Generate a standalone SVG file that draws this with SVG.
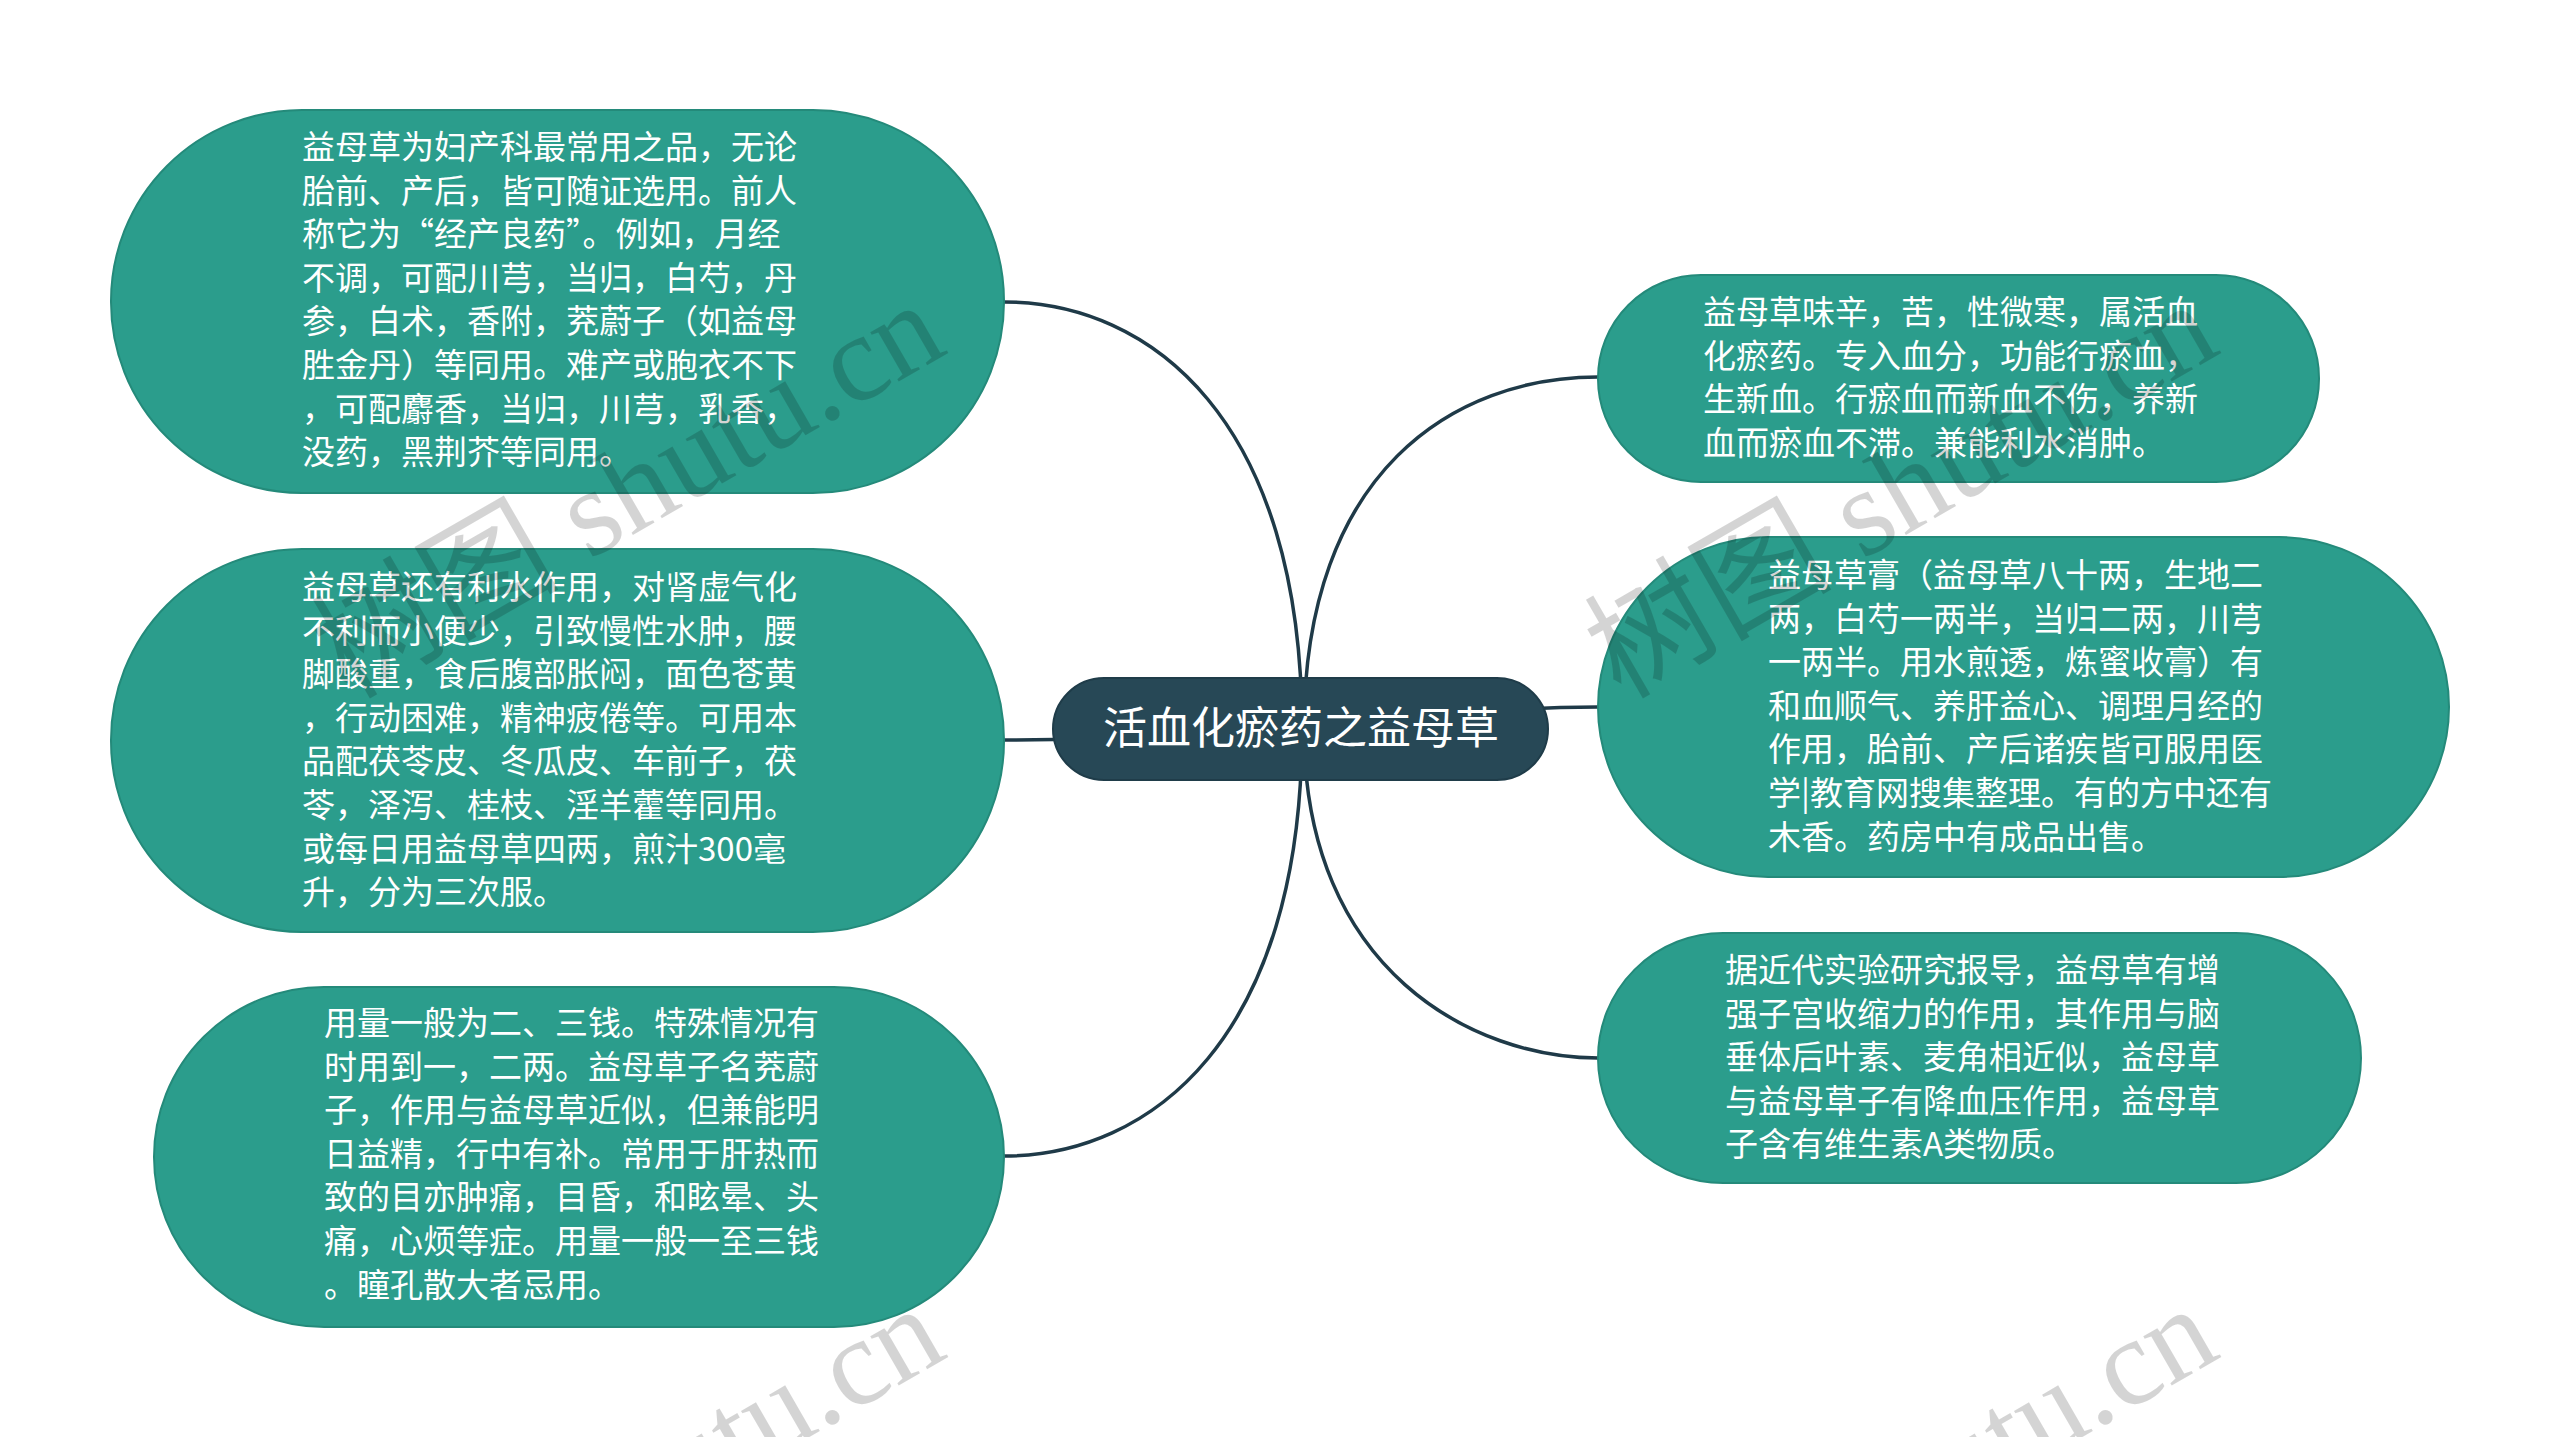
<svg xmlns="http://www.w3.org/2000/svg" width="2560" height="1437" viewBox="0 0 2560 1437">
<style>
.bg{fill:#ffffff}
.node{fill:#2b9d8c;stroke:#248a7a;stroke-width:2}
.root{fill:#274856;stroke:#1f3c49;stroke-width:2}
.t{font-family:"Noto Sans CJK SC","Noto Sans",sans-serif;font-size:33px;fill:#ffffff}
.rt{font-family:"Noto Sans CJK SC","Noto Sans",sans-serif;font-size:44px;fill:#ffffff;text-anchor:middle}
.edge{fill:none;stroke:#1f3a48;stroke-width:3.5}
.wm{font-family:"Liberation Serif","Noto Sans CJK SC",serif;font-size:124px;fill:#000000;fill-opacity:0.17;text-anchor:end}
</style>
<rect class="bg" x="0" y="0" width="2560" height="1437"/>
<g id="connectors">
<path class="edge" d="M1004,302 C1150,302 1302,419 1302,729"/>
<path class="edge" d="M1004,740 C1150,740 1200,729 1302,729"/>
<path class="edge" d="M1004,1156 C1150,1156 1302,1039 1302,729"/>
<path class="edge" d="M1598,377 C1455,377 1304,470 1304,729"/>
<path class="edge" d="M1598,707 C1450,707 1400,729 1302,729"/>
<path class="edge" d="M1598,1058 C1475,1058 1304,972 1304,729"/>
</g>
<g id="node1">
<rect class="node" x="111" y="110" width="893" height="383" rx="191" ry="191"/>
<text class="t" x="302" y="159"><tspan x="302">益母草为妇产科最常用之品，无论</tspan><tspan x="302" dy="43.6">胎前、产后，皆可随证选用。前人</tspan><tspan x="302" dy="43.6">称它为“经产良药”。例如，月经</tspan><tspan x="302" dy="43.6">不调，可配川芎，当归，白芍，丹</tspan><tspan x="302" dy="43.6">参，白术，香附，茺蔚子（如益母</tspan><tspan x="302" dy="43.6">胜金丹）等同用。难产或胞衣不下</tspan><tspan x="302" dy="43.6">，可配麝香，当归，川芎，乳香，</tspan><tspan x="302" dy="43.6">没药，黑荆芥等同用。</tspan></text>
</g>
<g id="node2">
<rect class="node" x="111" y="549" width="893" height="383" rx="191" ry="191"/>
<text class="t" x="302" y="599"><tspan x="302">益母草还有利水作用，对肾虚气化</tspan><tspan x="302" dy="43.6">不利而小便少，引致慢性水肿，腰</tspan><tspan x="302" dy="43.6">脚酸重，食后腹部胀闷，面色苍黄</tspan><tspan x="302" dy="43.6">，行动困难，精神疲倦等。可用本</tspan><tspan x="302" dy="43.6">品配茯苓皮、冬瓜皮、车前子，茯</tspan><tspan x="302" dy="43.6">苓，泽泻、桂枝、淫羊藿等同用。</tspan><tspan x="302" dy="43.6">或每日用益母草四两，煎汁300毫</tspan><tspan x="302" dy="43.6">升，分为三次服。</tspan></text>
</g>
<g id="node3">
<rect class="node" x="154" y="987" width="850" height="340" rx="170" ry="170"/>
<text class="t" x="324" y="1035"><tspan x="324">用量一般为二、三钱。特殊情况有</tspan><tspan x="324" dy="43.6">时用到一，二两。益母草子名茺蔚</tspan><tspan x="324" dy="43.6">子，作用与益母草近似，但兼能明</tspan><tspan x="324" dy="43.6">日益精，行中有补。常用于肝热而</tspan><tspan x="324" dy="43.6">致的目亦肿痛，目昏，和眩晕、头</tspan><tspan x="324" dy="43.6">痛，心烦等症。用量一般一至三钱</tspan><tspan x="324" dy="43.6">。瞳孔散大者忌用。</tspan></text>
</g>
<g id="node4">
<rect class="node" x="1598" y="275" width="721" height="207" rx="103" ry="103"/>
<text class="t" x="1703" y="324"><tspan x="1703">益母草味辛，苦，性微寒，属活血</tspan><tspan x="1703" dy="43.6">化瘀药。专入血分，功能行瘀血，</tspan><tspan x="1703" dy="43.6">生新血。行瘀血而新血不伤，养新</tspan><tspan x="1703" dy="43.6">血而瘀血不滞。兼能利水消肿。</tspan></text>
</g>
<g id="node5">
<rect class="node" x="1598" y="537" width="851" height="340" rx="170" ry="170"/>
<text class="t" x="1768" y="587"><tspan x="1768">益母草膏（益母草八十两，生地二</tspan><tspan x="1768" dy="43.6">两，白芍一两半，当归二两，川芎</tspan><tspan x="1768" dy="43.6">一两半。用水煎透，炼蜜收膏）有</tspan><tspan x="1768" dy="43.6">和血顺气、养肝益心、调理月经的</tspan><tspan x="1768" dy="43.6">作用，胎前、产后诸疾皆可服用医</tspan><tspan x="1768" dy="43.6">学|教育网搜集整理。有的方中还有</tspan><tspan x="1768" dy="43.6">木香。药房中有成品出售。</tspan></text>
</g>
<g id="node6">
<rect class="node" x="1598" y="933" width="763" height="250" rx="125" ry="125"/>
<text class="t" x="1725" y="982"><tspan x="1725">据近代实验研究报导，益母草有增</tspan><tspan x="1725" dy="43.6">强子宫收缩力的作用，其作用与脑</tspan><tspan x="1725" dy="43.6">垂体后叶素、麦角相近似，益母草</tspan><tspan x="1725" dy="43.6">与益母草子有降血压作用，益母草</tspan><tspan x="1725" dy="43.6">子含有维生素A类物质。</tspan></text>
</g>
<g id="root">
<rect class="root" x="1053" y="678" width="495" height="102" rx="51" ry="51"/>
<text class="rt" x="1301" y="744">活血化瘀药之益母草</text>
</g>
<g id="watermarks">
<text class="wm" transform="translate(950,352) rotate(-30)">树图 shutu.cn</text>
<text class="wm" transform="translate(2223,352) rotate(-30)">树图 shutu.cn</text>
<text class="wm" transform="translate(950,1356) rotate(-30)">树图 shutu.cn</text>
<text class="wm" transform="translate(2223,1356) rotate(-30)">树图 shutu.cn</text>
</g>
</svg>
